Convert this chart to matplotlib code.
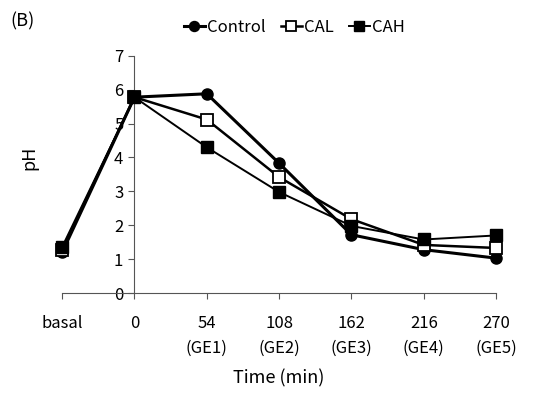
import matplotlib
matplotlib.use("Agg")
import matplotlib.pyplot as plt
import numpy as np

plt.rcParams['font.family'] = ['Noto Sans CJK JP', 'DejaVu Sans']

# data
tick_labels = ["basal", "0", "54\n(GE1)", "108\n(GE2)", "162\n(GE3)", "216\n(GE4)", "270\n(GE5)"]
control = [1.2, 5.78, 5.88, 3.83, 1.72, 1.28, 1.03]
cal = [1.27, 5.78, 5.12, 3.42, 2.18, 1.42, 1.33]
cah = [1.36, 5.78, 4.3, 2.98, 1.98, 1.58, 1.7]

x = np.arange(len(tick_labels))

fig = plt.figure(figsize=(5.5, 3.96), dpi=100)
ax = fig.add_axes([0.113, 0.26, 0.789, 0.599])

ax.plot(x, control, color="black", lw=2.2, marker="o", ms=8,
        mfc="black", mec="black", label="Control", clip_on=False, zorder=3)
ax.plot(x, cal, color="black", lw=1.8, marker="s", ms=8,
        mfc="white", mec="black", mew=1.3, label="CAL", clip_on=False, zorder=4)
ax.plot(x, cah, color="black", lw=1.4, marker="s", ms=8,
        mfc="black", mec="black", label="CAH", clip_on=False, zorder=5)

ax.set_xlim(0, 6)
ax.set_ylim(0, 7)
ax.set_xticks(x)
ax.set_xticklabels(tick_labels, fontsize=12, linespacing=1.55)
ax.set_yticks(range(8))
ax.tick_params(axis="y", labelsize=12, direction="out", length=4, pad=4, color="#555555")
ax.tick_params(axis="x", direction="out", length=4, pad=12, color="#555555")

for s in ["top", "right"]:
    ax.spines[s].set_visible(False)
ax.spines["left"].set_position(("data", 1))
ax.spines["left"].set_color("#555555")
ax.spines["bottom"].set_color("#555555")

ax.set_ylabel("pH", fontsize=13, labelpad=0)
ax.yaxis.set_label_coords(-0.055, 0.57)
ax.set_xlabel("Time (min)", fontsize=13, labelpad=9)

fig.text(0.018, 0.945, "(B)", fontsize=13, va="center")
fig.legend(loc="center", bbox_to_anchor=(0.535, 0.93), ncol=3, frameon=False,
           fontsize=12, handlelength=1.3, handletextpad=0.1, columnspacing=0.9,
           markerscale=0.9)

fig.savefig("out.png", dpi=100)
